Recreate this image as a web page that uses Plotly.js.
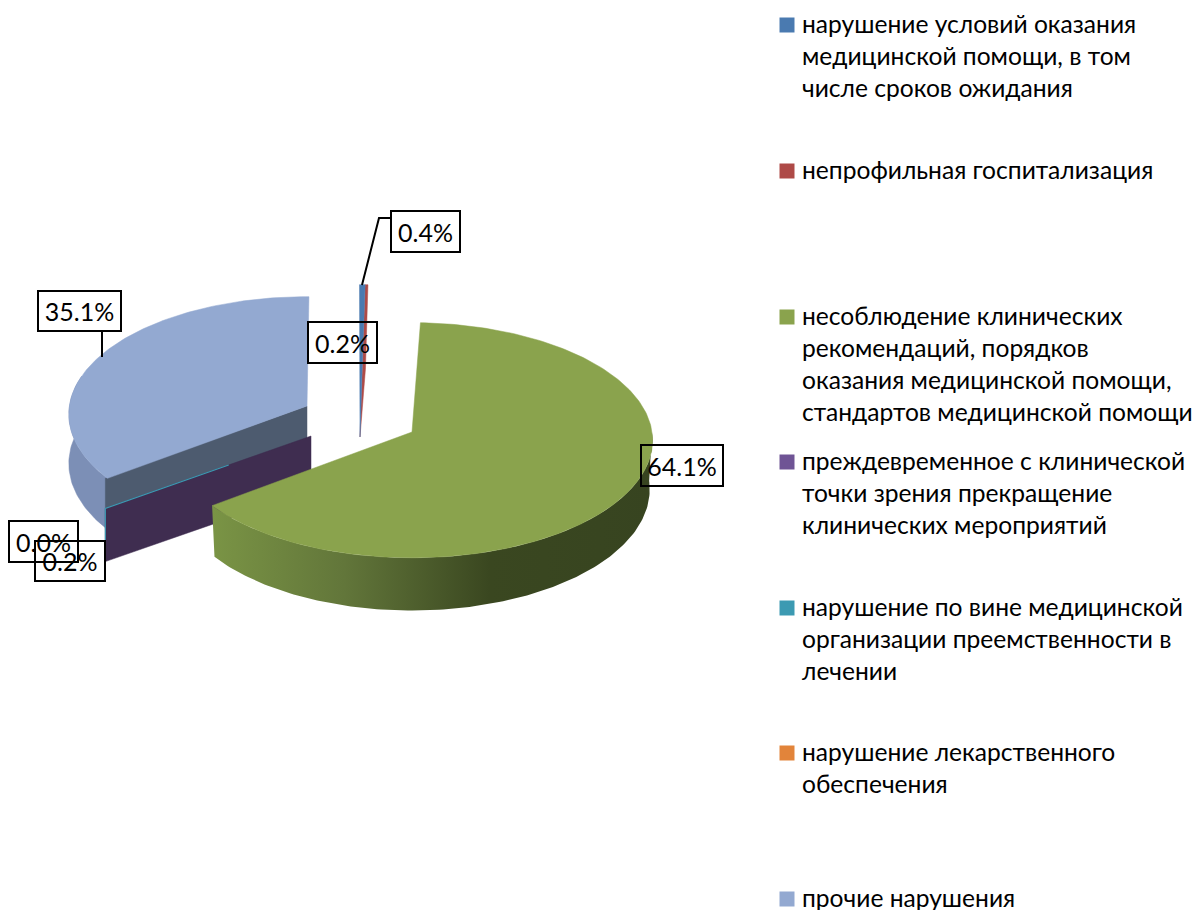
<!DOCTYPE html>
<html>
<head>
<meta charset="utf-8">
<script src="https://cdn.plot.ly/plotly-3.0.1.min.js"></script>
<style>html,body{margin:0;padding:0;background:#fff;overflow:hidden}#chart{width:1194px;height:910px}</style>
</head>
<body>
<div id="chart"></div>
<script>
const categories = [
  "нарушение условий оказания<br>медицинской помощи, в том<br>числе сроков ожидания",
  "непрофильная госпитализация",
  "несоблюдение клинических<br>рекомендаций, порядков<br>оказания медицинской помощи,<br>стандартов медицинской помощи",
  "преждевременное с клинической<br>точки зрения прекращение<br>клинических мероприятий",
  "нарушение по вине медицинской<br>организации преемственности в<br>лечении",
  "нарушение лекарственного<br>обеспечения",
  "прочие нарушения"
];
const shares = [0.4, 0.2, 64.1, 0.2, 0.0, 0.0, 35.1];
const colors = ["#4a7ab0", "#ae4a47", "#8aa34d", "#6f5495", "#3c9ab2", "#e2843a", "#93a9d1"];
const legendY = [25, 171, 317, 462, 608, 753, 899];
const FONT = "Lato, 'Open Sans', sans-serif";
const FS = 24.6;

// 3D pie geometry: every rim point comes from the cumulative share of a slice
const R = 240, T = 117, K = 0.07, DEPTH = 49;
const cum = []; shares.reduce((a, v, i) => (cum[i] = a, a + v), 0);
const ang = p => p * 3.6;
function rim(c, deg, drop, scale) {
  const t = deg * Math.PI / 180, X = Math.sin(t), Y = Math.cos(t), s = 1 / (1 + K * Y);
  return [c[0] + s * X * R * (scale || 1), c[1] - s * Y * T + (drop ? drop * s : 0)];
}
function arc(c, d0, d1, drop, scale) {
  const n = Math.max(2, Math.ceil(Math.abs(d1 - d0))), out = [];
  for (let i = 0; i <= n; i++) out.push(rim(c, d0 + (d1 - d0) * i / n, drop, scale));
  return out;
}
function poly(pts, fill, extra) {
  const p = pts.concat([pts[0]]);
  return Object.assign({x: p.map(q => q[0]), y: p.map(q => q[1]), type: "scatter", mode: "lines",
    fill: "toself", fillcolor: fill, line: {width: 0.5, color: fill}, hoverinfo: "skip", showlegend: false}, extra || {});
}
function stroke(pts, color, width) {
  return {x: pts.map(q => q[0]), y: pts.map(q => q[1]), type: "scatter", mode: "lines",
    line: {color: color, width: width}, hoverinfo: "skip", showlegend: false};
}

const cBlue = [359.5, 394], cGreen = [412, 432], cPurple = [311, 436], cOther = [307, 406];
const traces = [];

// прочие нарушения
const oS = ang(cum[6]), oE = 360.5;
traces.push(poly(arc(cOther, oS, 285, DEPTH, 0.99).concat(arc(cOther, 285, oS, 0, 0.99)), "#7c8fb6"));
traces.push(poly([cOther, rim(cOther, oS), rim(cOther, oS, DEPTH), [cOther[0], cOther[1] + DEPTH]], "#4d5b6f"));
traces.push(poly([cOther].concat(arc(cOther, oS, oE, 0, 0.99)), colors[6]));

// преждевременное прекращение + teal sliver
const pE = ang(cum[4]), pA = rim(cPurple, pE, 0, 1.02), pB = rim(cPurple, pE, DEPTH + 2, 1.02);
traces.push(poly([cPurple, pA, pB, [cPurple[0], cPurple[1] + DEPTH + 5]], "#3f2d50"));
const tealEnd = [pA[0] + (cPurple[0] - pA[0]) * 0.6, pA[1] + (cPurple[1] - pA[1]) * 0.6];
traces.push(stroke([tealEnd, pA, pB], colors[4], 1.2));

// thin slices at the top
const tip = [cBlue[0] + 0.5, cBlue[1] + 43];
const redRim = arc(cBlue, ang(cum[1]), ang(cum[2]));
const blueRim = arc(cBlue, ang(cum[0]), ang(cum[1]));
traces.push(poly(redRim.concat([[redRim[redRim.length - 1][0] - 2.5, cBlue[1] - 25], tip]), colors[1]));
traces.push(poly(blueRim.concat([[blueRim[blueRim.length - 1][0] - 3, cBlue[1] - 25], tip]), colors[0]));

// несоблюдение клинических рекомендаций
const gS = ang(cum[2]), gE = ang(cum[3]);
traces.push(poly(arc(cGreen, 90, gE, 0).concat(arc(cGreen, gE, 90, DEPTH, 0.988)), "#556b2f", {
  fillgradient: {type: "horizontal", colorscale: [[0, "#7a9445"], [0.3, "#62763a"], [0.63, "#3a4720"], [1, "#374420"]]},
  line: {width: 0}
}));
traces.push(poly([cGreen].concat(arc(cGreen, gS, gE)), colors[2]));

// legend swatches
traces.push({x: legendY.map(() => 787), y: legendY, type: "scatter", mode: "markers",
  marker: {symbol: "square", size: 15, color: colors, line: {width: 0}}, hoverinfo: "skip", showlegend: false});

// leader lines
traces.push(stroke([[391, 218], [379, 218], [362, 285]], "#000", 2));
traces.push(stroke([[102, 331], [102, 357]], "#000", 2));

const boxes = [
  ["0.4%", 391, 460, 211, 252], ["0.2%", 308, 377, 322, 363], ["64.1%", 641, 723, 445, 486],
  ["35.1%", 38, 121, 291, 331], ["0.0%", 9, 78, 521, 562], ["0.2%", 35, 105, 541, 581]
];
const annotations = boxes.map(b => ({
  text: b[0], x: (b[1] + b[2]) / 2, y: (b[3] + b[4]) / 2, xref: "x", yref: "y", showarrow: false,
  xanchor: "center", yanchor: "middle", width: b[2] - b[1] - 2, height: b[4] - b[3] - 2, borderpad: 0,
  bordercolor: "#000", borderwidth: 2, font: {family: FONT, size: FS + 0.4, color: "#000"}
})).concat(categories.map((c, i) => ({
  text: c, x: 801, y: legendY[i] - 17, xref: "x", yref: "y", showarrow: false, align: "left",
  xanchor: "left", yanchor: "top", borderpad: 0, font: {family: FONT, size: FS, color: "#000"}
})));

const layout = {
  width: 1194, height: 910, margin: {l: 0, r: 0, t: 0, b: 0}, paper_bgcolor: "#fff", plot_bgcolor: "#fff",
  showlegend: false, hovermode: false,
  xaxis: {range: [0, 1194], visible: false, fixedrange: true},
  yaxis: {range: [910, 0], visible: false, fixedrange: true},
  annotations: annotations
};
Plotly.newPlot("chart", traces, layout, {displayModeBar: false, staticPlot: true});
</script>
</body>
</html>
